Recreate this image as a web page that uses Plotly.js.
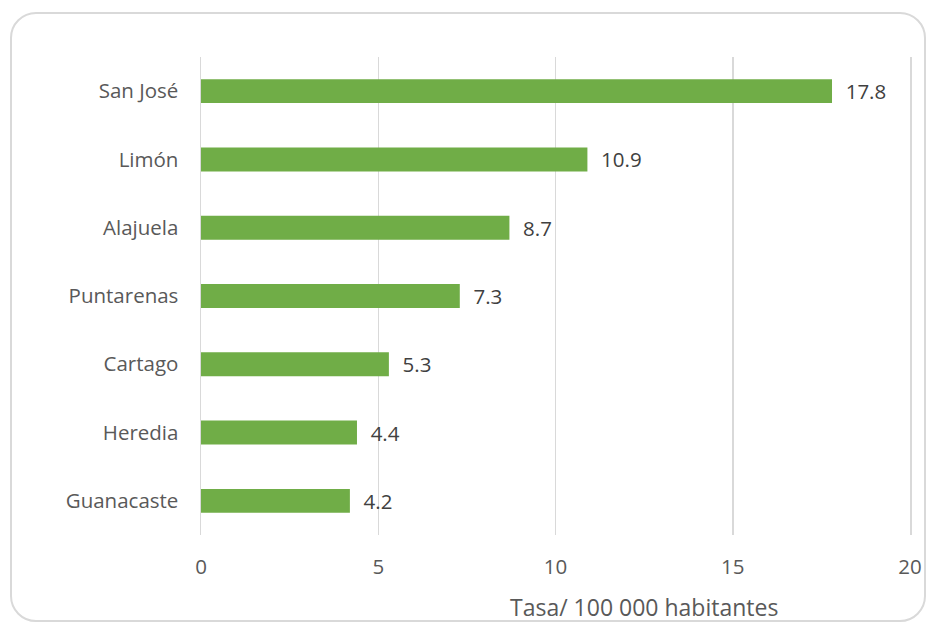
<!DOCTYPE html>
<html>
<head>
<meta charset="utf-8">
<script src="https://cdn.plot.ly/plotly-3.0.1.min.js"></script>
<style>
html,body{margin:0;padding:0;background:#fff;}
#wrap{position:relative;width:927px;height:622px;overflow:hidden;}
#frame{position:absolute;left:10px;top:12px;width:912px;height:606px;border:2px solid #d9d9d9;border-radius:26px;pointer-events:none;}
#chart{position:absolute;left:0;top:0;width:927px;height:622px;}
</style>
</head>
<body>
<div id="wrap">
<div id="frame"></div>
<div id="chart"></div>
</div>
<script>
const categories = ["San José","Limón","Alajuela","Puntarenas","Cartago","Heredia","Guanacaste"];
const values = [17.8, 10.9, 8.7, 7.3, 5.3, 4.4, 4.2];
const xTicks = [0, 5, 10, 15, 20];
const axisTitle = "Tasa/ 100 000 habitantes";

const font = "Open Sans, Noto Sans, sans-serif";
const trace = {
  type: "bar",
  orientation: "h",
  y: categories,
  x: values,
  width: 0.35,
  marker: {color: "#70AD47"},
  text: values.map(v => "\u00a0\u00a0" + v.toFixed(1)),
  textposition: "outside",
  constraintext: "none",
  cliponaxis: false,
  textfont: {family: font, size: 20.5, color: "#404040"},
  hoverinfo: "none"
};
const layout = {
  width: 927, height: 622,
  margin: {l: 201, r: 17, t: 57, b: 87},
  paper_bgcolor: "rgba(0,0,0,0)",
  plot_bgcolor: "rgba(0,0,0,0)",
  showlegend: false,
  xaxis: {
    range: [0, 20], tickvals: xTicks, ticktext: xTicks.map(String),
    showgrid: true, gridcolor: "#d9d9d9", gridwidth: 1.5,
    zeroline: false, showline: false, ticks: "",
    ticklabelstandoff: 17,
    tickfont: {family: font, size: 20.5, color: "#595959"},
    fixedrange: true
  },
  yaxis: {
    categoryorder: "array", categoryarray: categories.slice().reverse(),
    showgrid: false, zeroline: false, ticks: "",
    showline: true, mirror: true, linecolor: "#d9d9d9", linewidth: 1.5,
    ticklabelstandoff: 17,
    tickfont: {family: font, size: 20.5, color: "#595959"},
    fixedrange: true
  },
  annotations: [{
    text: axisTitle, xref: "paper", yref: "paper",
    x: 0.625, y: -0.15, xanchor: "center", yanchor: "middle",
    showarrow: false, font: {family: font, size: 23, color: "#595959"}
  }]
};
Plotly.newPlot("chart", [trace], layout, {displayModeBar: false, staticPlot: true});
</script>
</body>
</html>
